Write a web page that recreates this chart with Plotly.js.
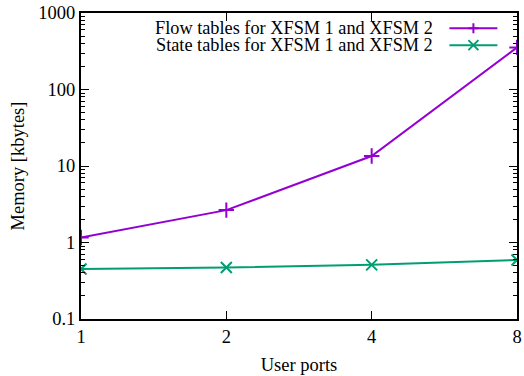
<!DOCTYPE html>
<html>
<head>
<meta charset="utf-8">
<script src="https://cdn.plot.ly/plotly-3.0.1.min.js"></script>
<style>html,body{margin:0;padding:0;background:#fff;}#chart{width:524px;height:376px;}</style>
</head>
<body>
<div id="chart"></div>
<script>
const userPorts = [1, 2, 4, 8];
const tickLabels = ['1', '2', '4', '8'];
const flowTables = [1.16, 2.65, 13.5, 355];
const stateTables = [0.45, 0.47, 0.51, 0.59];
const seriesNames = ['Flow tables for XFSM 1 and XFSM 2', 'State tables for XFSM 1 and XFSM 2'];
const colors = ['#9400d3', '#009e73'];

const FONT = '"Liberation Serif", "Times New Roman", serif';
const FS = 18.5;

const traces = [
  {x: userPorts, y: flowTables, mode: 'lines+markers', name: seriesNames[0],
   line: {color: colors[0], width: 2},
   marker: {symbol: 'cross-thin-open', size: 11, line: {color: colors[0], width: 2}}},
  {x: userPorts, y: stateTables, mode: 'lines+markers', name: seriesNames[1],
   line: {color: colors[1], width: 2},
   marker: {symbol: 'x-thin-open', size: 11, line: {color: colors[1], width: 2}}}
];

// legend built right-aligned like gnuplot (text, then sample)
const legY = [0.95, 0.895];
const annotations = seriesNames.map((t, i) => ({
  xref: 'paper', yref: 'paper', x: 0.81, y: legY[i], xanchor: 'right', yanchor: 'middle',
  text: t, showarrow: false, font: {family: FONT, size: 18.3, color: '#000'}, borderpad: 0
}));
const shapes = [];
seriesNames.forEach((t, i) => {
  shapes.push({type: 'line', xref: 'paper', yref: 'paper', x0: 0.845, x1: 0.955, y0: legY[i], y1: legY[i],
    line: {color: colors[i], width: 2}});
});
shapes.push({type: 'path', xref: 'paper', yref: 'paper', xsizemode: 'pixel', ysizemode: 'pixel',
  xanchor: 0.9, yanchor: legY[0], path: 'M-5,0 L5,0 M0,-5 L0,5', line: {color: colors[0], width: 2}});
shapes.push({type: 'path', xref: 'paper', yref: 'paper', xsizemode: 'pixel', ysizemode: 'pixel',
  xanchor: 0.9, yanchor: legY[1], path: 'M-5,-5 L5,5 M-5,5 L5,-5', line: {color: colors[1], width: 2}});

const layout = {
  width: 524, height: 376,
  margin: {l: 81, r: 7, t: 13, b: 57},
  paper_bgcolor: '#fff', plot_bgcolor: '#fff',
  font: {family: FONT, size: FS, color: '#000'},
  showlegend: false,
  xaxis: {
    type: 'log', range: [0, Math.log10(8)],
    tickvals: userPorts, ticktext: tickLabels,
    ticks: 'inside', ticklen: 8, tickwidth: 1, tickcolor: '#000',
    showgrid: false, zeroline: false,
    showline: true, linecolor: '#000', linewidth: 2, mirror: 'allticks',
    title: {text: 'User ports', font: {family: FONT, size: FS}, standoff: 12},
    tickfont: {family: FONT, size: FS}
  },
  yaxis: {
    type: 'log', range: [-1, 3],
    tickvals: [0.1, 1, 10, 100, 1000], ticktext: ['0.1', '1', '10', '100', '1000'],
    ticks: 'inside', ticklen: 8, tickwidth: 1, tickcolor: '#000',
    minor: {ticks: 'inside', ticklen: 4, tickwidth: 1, tickcolor: '#000', dtick: 'D1', showgrid: false},
    showgrid: false, zeroline: false,
    showline: true, linecolor: '#000', linewidth: 2, mirror: 'allticks',
    title: {text: 'Memory [kbytes]', font: {family: FONT, size: FS}, standoff: 9},
    tickfont: {family: FONT, size: FS}
  },
  annotations: annotations,
  shapes: shapes
};

Plotly.newPlot('chart', traces, layout, {displayModeBar: false, staticPlot: true});
</script>
</body>
</html>
